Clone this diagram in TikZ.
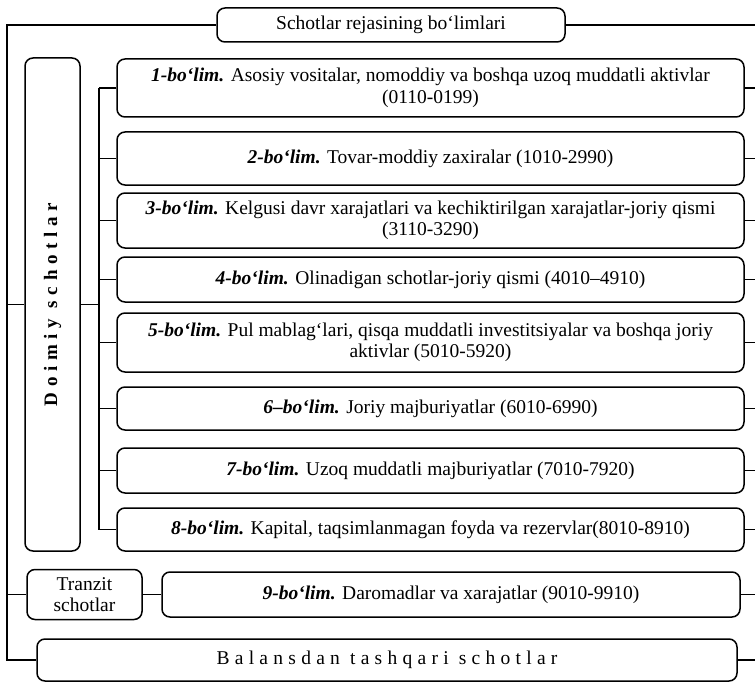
\documentclass[tikz,border=0pt]{standalone}
\usepackage{fontspec}
\setmainfont{Liberation Serif}
\newfontfamily\spacedfont[LetterSpace=27]{Liberation Serif}
\newfontfamily\spacedbold[LetterSpace=30]{Liberation Serif}
\newcommand{\bl}[1]{\textbf{\textit{#1-bo‘lim.}}}
\begin{document}
\begin{tikzpicture}[x=1pt,y=-1pt,
  box/.style={draw,line width=1.5pt,rounded corners=8pt,inner sep=2pt,align=center,
    font=\fontsize{19.5}{21.5}\selectfont},
  link/.style={line width=1.5pt}]
\useasboundingbox (0,0) rectangle (755,682);
\coordinate (ox) at (7,0);
\coordinate (bx) at (99,0);
\coordinate (rx) at (755,0);
\node[box,minimum width=348pt,minimum height=34pt] (title) at (391,25) {Schotlar rejasining bo‘limlari};
\node[box,minimum width=55pt,minimum height=493pt] (doim) at (52.5,304.5) {};
\node[rotate=90,font=\fontsize{19}{21}\spacedbold\bfseries] (doimt) at (doim.center) {Doimiy schotlar};
\node[box,minimum width=627pt,minimum height=58pt] (b1) at (430.5,88) {\bl{1} Asosiy vositalar, nomoddiy va boshqa uzoq muddatli aktivlar\\(0110-0199)};
\node[box,minimum width=627pt,minimum height=53pt] (b2) at (430.5,158.5) {\bl{2} Tovar-moddiy zaxiralar (1010-2990)};
\node[box,minimum width=627pt,minimum height=55pt] (b3) at (430.5,220.5) {\bl{3} Kelgusi davr xarajatlari va kechiktirilgan xarajatlar-joriy qismi\\(3110-3290)};
\node[box,minimum width=627pt,minimum height=45pt] (b4) at (430.5,279.5) {\bl{4} Olinadigan schotlar-joriy qismi (4010–4910)};
\node[box,minimum width=627pt,minimum height=59pt] (b5) at (430.5,342.5) {\bl{5} Pul mablag‘lari, qisqa muddatli investitsiyalar va boshqa joriy\\aktivlar (5010-5920)};
\node[box,minimum width=627pt,minimum height=43pt] (b6) at (430.5,408.5) {\textbf{\textit{6–bo‘lim.}} Joriy majburiyatlar (6010-6990)};
\node[box,minimum width=627pt,minimum height=45pt] (b7) at (430.5,470.5) {\bl{7} Uzoq muddatli majburiyatlar (7010-7920)};
\node[box,minimum width=627pt,minimum height=43pt] (b8) at (430.5,529.5) {\bl{8} Kapital, taqsimlanmagan foyda va rezervlar(8010-8910)};
\node[box,minimum width=115pt,minimum height=50pt] (tr) at (84.5,594.5) {Tranzit\\schotlar};
\node[box,minimum width=578pt,minimum height=45pt] (b9) at (451,594.5) {\bl{9} Daromadlar va xarajatlar (9010-9910)};
\node[box,minimum width=700pt,minimum height=42pt] (bal) at (387,660) {\spacedfont Balansdan tashqari schotlar};
% outer bus
\draw[link] (title.west) -| (ox |- bal.west) -- (bal.west);
\draw[link] (ox |- doim.west) -- (doim.west);
\draw[link] (ox |- tr.west) -- (tr.west);
\draw[link] (tr.east) -- (b9.west);
% inner bus
\draw[link] (bx |- b1.west) -- (bx |- b8.west);
\draw[link] (doim.east) -- (bx |- doim.east);
\foreach \n in {b1,b2,b3,b4,b5,b6,b7,b8}
  \draw[link] (\n.west) -- (bx |- \n.west);
% right stubs
\foreach \n in {title,b1,b2,b3,b4,b5,b6,b7,b8,b9,bal}
  \draw[link] (\n.east) -- (rx |- \n.east);
\end{tikzpicture}
\end{document}
